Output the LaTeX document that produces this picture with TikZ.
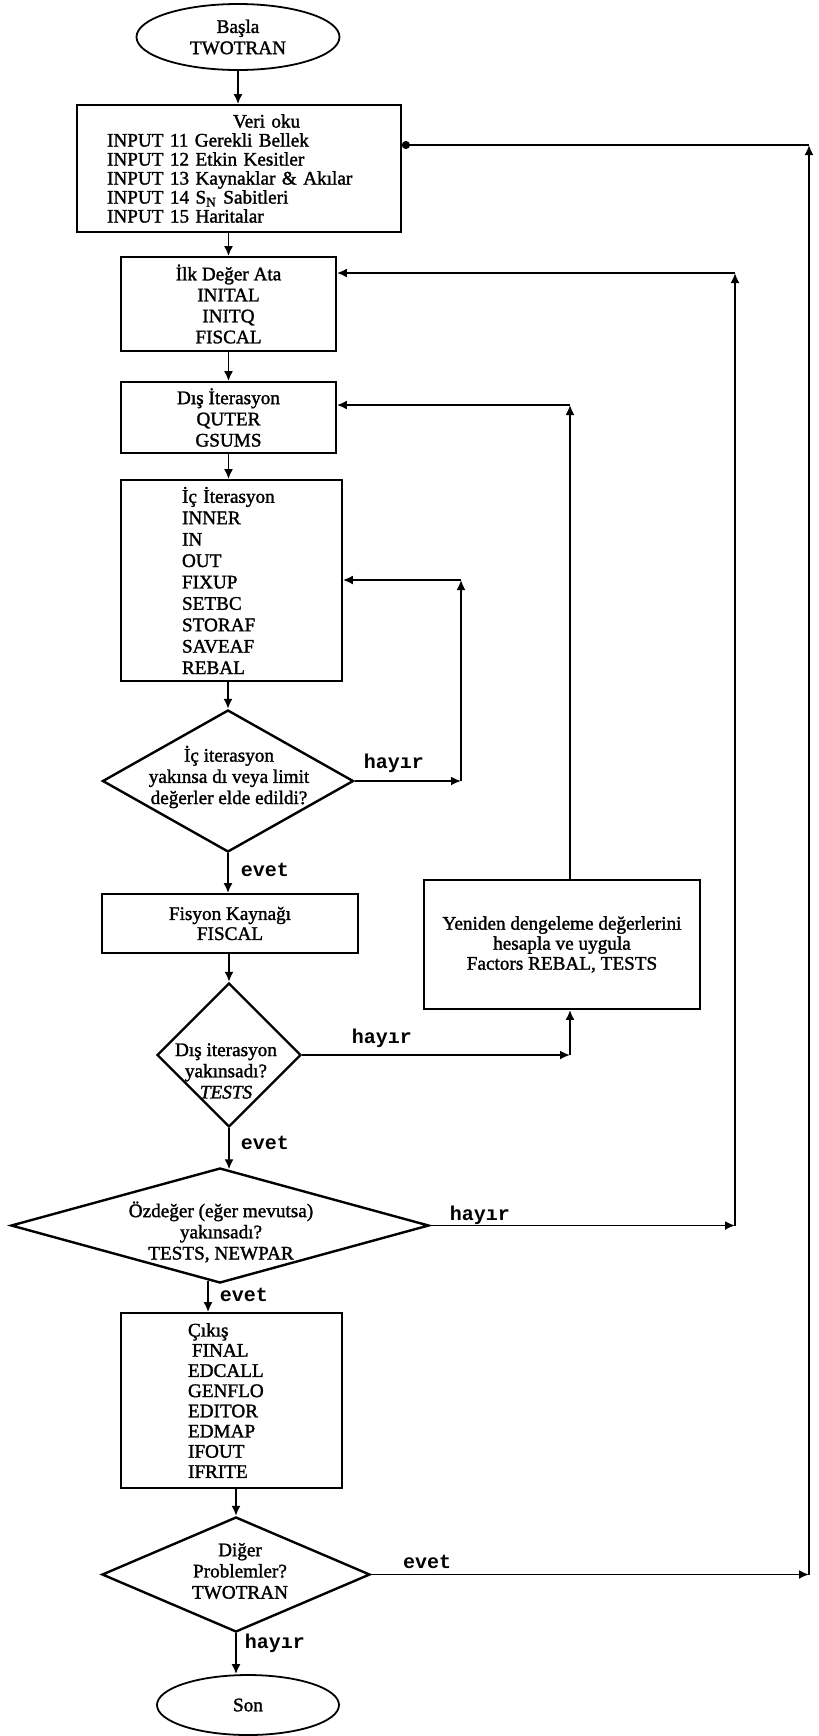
\documentclass[tikz,border=0pt]{standalone}
\usepackage{fontspec}
\setmainfont{Liberation Serif}[FakeBold=1.5]
\setmonofont{Liberation Mono}
\usetikzlibrary{shapes.geometric,arrows.meta,calc}
\tikzset{
  box/.style={draw, line width=0.9pt, inner sep=1pt},
  decision/.style={diamond, draw, line width=1.2pt, inner sep=0pt},
  terminal/.style={ellipse, draw, line width=0.9pt, inner sep=0pt},
  flow/.style={line width=0.9pt, -{Latex[length=5pt,width=4.5pt]}},
  answer/.style={font=\ttfamily\bfseries\fontsize{10}{12}\selectfont},
}
\begin{document}
\begin{tikzpicture}[x=0.5pt,y=-0.5pt,font=\fontsize{9.6}{10.6}\selectfont]
\useasboundingbox (0,0) rectangle (819,1736);
\node[terminal, minimum width=101.5pt, minimum height=33pt, align=center] (start) at (238,37) {Başla\\TWOTRAN};
\node[box, inner ysep=0pt, minimum width=162pt, minimum height=63.5pt, text width=132pt, align=left, font=\fontsize{9.6}{9.5}\selectfont] (read) at (239,168.5)
  {\hspace*{63pt}Veri oku\\INPUT 11 Gerekli Bellek\\INPUT 12 Etkin Kesitler\\INPUT 13 Kaynaklar \& Akılar\\INPUT 14 S\textsubscript{N} Sabitleri\\INPUT 15 Haritalar};
\node[box, minimum width=107.5pt, minimum height=47pt, align=center, font=\fontsize{9.6}{10.5}\selectfont] (init) at (228.5,304) {İlk Değer Ata\\INITAL\\INITQ\\FISCAL};
\node[box, minimum width=107.5pt, minimum height=35.5pt, align=center] (outer) at (228.5,417.5) {Dış İterasyon\\QUTER\\GSUMS};
\node[box, minimum width=110.5pt, minimum height=100.5pt, text width=49.5pt, align=left, font=\fontsize{9.6}{10.7}\selectfont] (inner) at (231.5,580.5)
  {İç İterasyon\\INNER\\IN\\OUT\\FIXUP\\SETBC\\STORAF\\SAVEAF\\REBAL};
\node[decision, minimum width=125.5pt, minimum height=71pt] (conv1) at (228,781) {};
\node[align=center] (conv1t) at (229,777) {İç iterasyon\\yakınsa dı veya limit\\değerler elde edildi?};
\node[box, minimum width=128pt, minimum height=29.5pt, align=center, font=\fontsize{9.6}{10}\selectfont] (fission) at (230,923.5) {Fisyon Kaynağı\\FISCAL};
\node[box, minimum width=138pt, minimum height=64.5pt, align=center, font=\fontsize{9.6}{10}\selectfont] (rebal) at (562,944.5)
  {Yeniden dengeleme değerlerini\\hesapla ve uygula\\Factors REBAL, TESTS};
\node[decision, minimum width=72pt, minimum height=72pt] (conv2) at (229,1055) {};
\node[align=center] (conv2t) at (226,1071) {Dış iterasyon\\yakınsadı?\\\textit{TESTS}};
\node[decision, minimum width=209pt, minimum height=57.5pt] (eigen) at (220,1225.5) {};
\node[align=center] (eigent) at (221,1232) {Özdeğer (eğer mevutsa)\\yakınsadı?\\TESTS, NEWPAR};
\node[box, minimum width=110.5pt, minimum height=87.5pt, text width=43.5pt, align=left, font=\fontsize{9.6}{10.1}\selectfont] (output) at (231.5,1400.5)
  {Çıkış\\\hspace*{2pt}FINAL\\EDCALL\\GENFLO\\EDITOR\\EDMAP\\IFOUT\\IFRITE};
\node[decision, minimum width=134pt, minimum height=57.5pt] (more) at (236,1574.5) {};
\node[align=center] (moret) at (240,1571) {Diğer\\Problemler?\\TWOTRAN};
\node[terminal, minimum width=91pt, minimum height=30pt] (stop) at (248,1705) {Son};
\coordinate (eigenout) at ($(eigen.south)!0.057!(eigen.west)$);
\draw[flow] (start.south) -- (start.south |- read.north);
\draw[flow] (read.south -| init.north) -- (init.north);
\draw[flow] (init.south) -- (outer.north);
\draw[flow] (outer.south) -- (outer.south |- inner.north);
\draw[flow] (inner.south -| conv1.north) -- (conv1.north);
\draw[flow] (conv1.south) -- (conv1.south |- fission.north);
\draw[flow] (fission.south -| conv2.north) -- (conv2.north);
\draw[flow] (conv2.south) -- ($(eigen.north)!0.043!(eigen.east)$);
\draw[flow] (eigenout) -- (eigenout |- output.north);
\draw[flow] (output.south -| more.north) -- (more.north);
\draw[flow] (more.south) -- (more.south |- stop.north);
\coordinate (loopA) at (461,580);
\draw[flow] (conv1.east) -- (conv1.east -| loopA);
\draw[flow] (conv1.east -| loopA) -- (loopA);
\draw[flow] (loopA) -- (loopA -| inner.east);
\coordinate (loopB) at (570,405);
\draw[flow] (conv2.east) -- (conv2.east -| loopB);
\draw[flow] (conv2.east -| loopB) -- (loopB |- rebal.south);
\draw[flow] (loopB |- rebal.north) -- (loopB);
\draw[flow] (loopB) -- (loopB -| outer.east);
\coordinate (loopC) at (735,273);
\draw[flow] (eigen.east) -- (eigen.east -| loopC);
\draw[flow] (eigen.east -| loopC) -- (loopC);
\draw[flow] (loopC) -- (loopC -| init.east);
\coordinate (loopD) at (809,145);
\draw[flow] (more.east) -- (more.east -| loopD);
\draw[flow] (more.east -| loopD) -- (loopD);
\draw[line width=0.9pt, -{Circle[length=4pt]}] (loopD) -- (loopD -| read.east);
\node[answer] (no1) at (394,763) {hayır};
\node[answer] (yes1) at (265,870) {evet};
\node[answer] (no2) at (382,1038) {hayır};
\node[answer] (yes2) at (265,1143) {evet};
\node[answer] (no3) at (480,1215) {hayır};
\node[answer] (yes3) at (244,1295) {evet};
\node[answer] (yes4) at (427,1562) {evet};
\node[answer] (no4) at (275,1643) {hayır};
\end{tikzpicture}
\end{document}
